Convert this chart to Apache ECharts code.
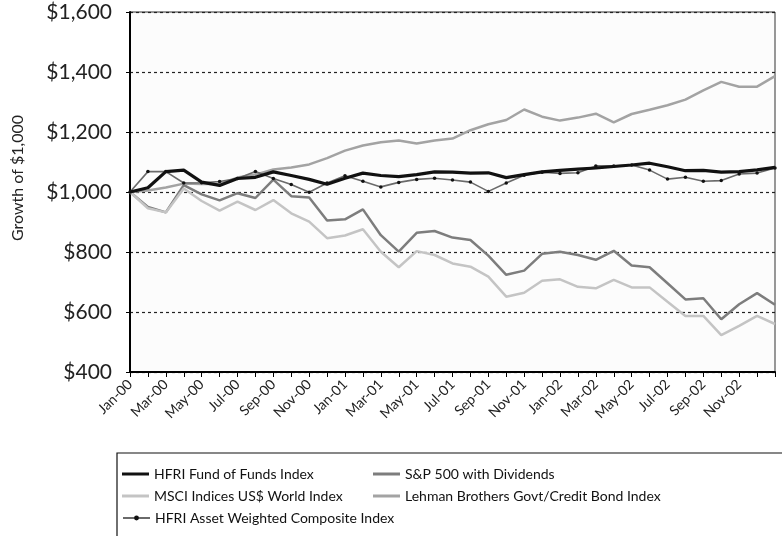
<!DOCTYPE html>
<html>
<head>
<meta charset="utf-8">
<script src="https://cdn.jsdelivr.net/npm/echarts@6/dist/echarts.min.js"></script>
<style>
html,body{margin:0;padding:0;background:#fff;}
#chart{width:782px;height:536px;}
</style>
</head>
<body>
<div id="chart"></div>
<script>
const categories = ['Jan-00','Feb-00','Mar-00','Apr-00','May-00','Jun-00','Jul-00','Aug-00','Sep-00','Oct-00','Nov-00','Dec-00',
  'Jan-01','Feb-01','Mar-01','Apr-01','May-01','Jun-01','Jul-01','Aug-01','Sep-01','Oct-01','Nov-01','Dec-01',
  'Jan-02','Feb-02','Mar-02','Apr-02','May-02','Jun-02','Jul-02','Aug-02','Sep-02','Oct-02','Nov-02','Dec-02','Jan-03'];

const hfriFundOfFunds = [1000,1014,1068,1073,1033,1022,1045,1049,1067,1055,1042,1026,1046,1063,1055,1051,1058,1067,1066,1063,1064,1048,1058,1067,1072,1076,1080,1085,1090,1096,1084,1071,1072,1066,1068,1074,1082];
const sp500 = [1000,950,932,1023,992,972,996,980,1041,986,982,905,909,942,856,801,864,870,848,840,788,724,738,794,801,790,774,804,755,749,696,642,646,576,626,663,624];
const msciWorld = [1000,946,932,1012,970,938,968,940,973,929,901,846,855,876,801,749,803,790,762,751,718,651,664,704,709,684,679,707,682,682,634,587,587,523,554,587,560];
const lehman = [1000,1005,1015,1028,1027,1027,1048,1058,1075,1082,1092,1113,1138,1155,1166,1172,1162,1172,1178,1206,1226,1240,1275,1251,1238,1248,1261,1232,1260,1274,1289,1308,1339,1367,1351,1351,1386];
const hfriAssetWeighted = [1000,1068,1068,1030,1031,1035,1045,1068,1045,1025,999,1030,1054,1036,1017,1032,1042,1046,1040,1033,1002,1030,1056,1066,1062,1064,1087,1087,1090,1073,1043,1049,1036,1038,1060,1063,1080];

const names = ['HFRI Fund of Funds Index','S&P 500 with Dividends','MSCI Indices US$ World Index','Lehman Brothers Govt/Credit Bond Index','HFRI Asset Weighted Composite Index'];
const yTicks = {min:400, max:1600, interval:200};

const FONT = 'Lato, "Open Sans", sans-serif';

function money(v){ return '$' + String(v).replace(/\B(?=(\d{3})+(?!\d))/g, ','); }

const chart = echarts.init(document.getElementById('chart'), null, {renderer:'canvas'});

function legendAt(name, left, centerY, opts){
  const ih = (opts && opts.itemHeight) || 3;
  return Object.assign({
    data:[name], left:left, top:centerY - 8, padding:0, orient:'horizontal',
    itemWidth:27, itemHeight:ih, itemGap:0, selectedMode:false,
    icon:'rect',
    textStyle:{fontFamily:FONT, fontSize:14, color:'#111', padding:[0,0,0,0]}
  }, opts || {});
}

const option = {
  backgroundColor:'#ffffff',
  animation:false,
  grid:{left:130, right:7, top:12, bottom:164, show:true, borderColor:'#333', borderWidth:1, backgroundColor:'#fcfcfc', containLabel:false},
  xAxis:{
    type:'category', data:categories, boundaryGap:false,
    axisLine:{show:true, lineStyle:{color:'#000', width:2}},
    axisTick:{show:true, interval:0, length:5, lineStyle:{color:'#000', width:1}},
    axisLabel:{interval:function(i){return i%2===0 && i<36;}, rotate:45, margin:10, fontFamily:FONT, fontSize:14, color:'#222'},
    splitLine:{show:false}
  },
  yAxis:{
    type:'value', min:yTicks.min, max:yTicks.max, interval:yTicks.interval,
    axisLine:{show:true, lineStyle:{color:'#000', width:2}},
    axisTick:{show:true, length:4, lineStyle:{color:'#000'}},
    axisLabel:{margin:18, fontFamily:FONT, fontSize:21, color:'#222', formatter:money},
    splitLine:{show:true, lineStyle:{color:'#222', width:1.2, type:[3,3]}}
  },
  legend:[
    legendAt(names[0], 122, 475),
    legendAt(names[1], 373, 475),
    legendAt(names[2], 122, 497),
    legendAt(names[3], 373, 497),
    legendAt(names[4], 122, 519, {icon:null, itemHeight:6})
  ],
  graphic:[
    {type:'rect', z:0, shape:{x:117, y:453, width:700, height:120}, style:{fill:'#fff', stroke:'#111', lineWidth:1.2}},
    {type:'text', z:5, x:18, y:178, rotation:Math.PI/2, style:{text:'Growth of $1,000', font:'16px ' + FONT, fill:'#222', textAlign:'center', textVerticalAlign:'middle'}}
  ],
  series:[
    {name:names[0], type:'line', data:hfriFundOfFunds, symbol:'none', lineStyle:{color:'#111', width:3.2}, itemStyle:{color:'#111'}, z:6},
    {name:names[1], type:'line', data:sp500, symbol:'none', lineStyle:{color:'#7d7d7d', width:2.5}, itemStyle:{color:'#7d7d7d'}, z:3},
    {name:names[2], type:'line', data:msciWorld, symbol:'none', lineStyle:{color:'#c4c4c4', width:2.5}, itemStyle:{color:'#c4c4c4'}, z:3},
    {name:names[3], type:'line', data:lehman, symbol:'none', lineStyle:{color:'#a3a3a3', width:2.5}, itemStyle:{color:'#a3a3a3'}, z:3},
    {name:names[4], type:'line', data:hfriAssetWeighted, symbol:'circle', symbolSize:3.5, showSymbol:true, lineStyle:{color:'#6a6a6a', width:1.6}, itemStyle:{color:'#111'}, z:5}
  ]
};
chart.setOption(option);
</script>
</body>
</html>
